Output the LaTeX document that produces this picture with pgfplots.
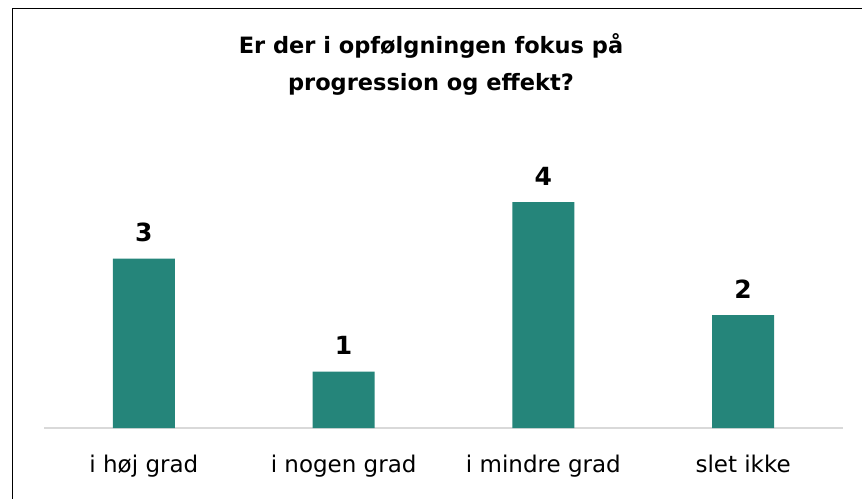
\documentclass[border=0pt]{standalone}
\usepackage{pgfplots}
\pgfplotsset{compat=1.18}
\usepackage{fontspec}
\setmainfont{DejaVu Sans}
\definecolor{barteal}{RGB}{37,133,122}
\definecolor{baseg}{RGB}{217,217,217}
\begin{document}
\begin{tikzpicture}
\useasboundingbox (-44pt,-70pt) rectangle (818pt,428pt);
\begin{scope}
\clip (-44pt,-70pt) rectangle (818pt,428pt);
\draw[line width=1.6pt, black] (-31.5pt,-120pt) rectangle (880pt,419.5pt);
\end{scope}
\node[font=\bfseries\fontsize{22.5}{37}\selectfont, align=center, anchor=center] at (387pt,364pt)
  {Er der i opfølgningen fokus på\\progression og effekt?};
\begin{axis}[
  at={(0pt,0pt)}, anchor=south west,
  scale only axis,
  width=799pt, height=254pt,
  xmin=-0.5, xmax=3.5, ymin=0, ymax=4.5,
  axis y line=none,
  axis x line*=bottom,
  x axis line style={draw=baseg, line width=1.5pt, -},
  xtick={0,1,2,3},
  xticklabels={i høj grad, i nogen grad, i mindre grad, slet ikke},
  major tick length=0pt,
  xticklabel style={font=\fontsize{23}{26}\selectfont, anchor=base, yshift=-44pt, inner sep=0pt},
  ytick=\empty,
  ybar, bar width=62pt,
  nodes near coords,
  /pgf/number format/assume math mode=true,
  nodes near coords style={font=\bfseries\fontsize{25}{28}\selectfont, anchor=base, yshift=17pt, inner sep=0pt},
  clip=false,
]
\addplot[fill=barteal, draw=none] coordinates {(0,3) (1,1) (2,4) (3,2)};
\end{axis}
\end{tikzpicture}
\end{document}
